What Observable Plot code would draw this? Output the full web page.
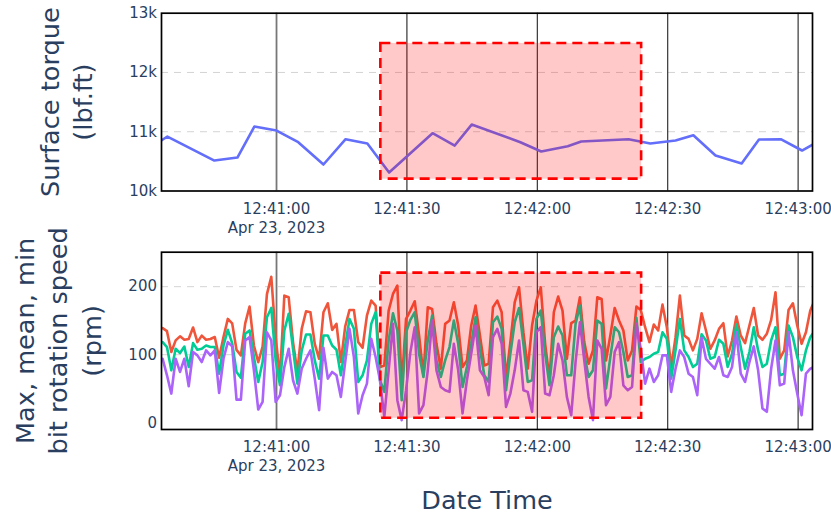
<!DOCTYPE html>
<html>
<head>
<meta charset="utf-8">
<script src="https://cdn.jsdelivr.net/npm/d3@7"></script>
<script src="https://cdn.jsdelivr.net/npm/@observablehq/plot@0.6"></script>
<style>
  html, body { margin: 0; padding: 0; background: #fff; }
  #chart { width: 831px; height: 514px; }
  #chart svg { display: block; }
</style>
</head>
<body>
<div id="chart"></div>
<script>
// ---------- data ----------
const xDomain = ["2023-04-23T12:40:33.54Z", "2023-04-23T12:43:03.31Z"];
const xTicks = ["2023-04-23T12:41:00Z", "2023-04-23T12:41:30Z", "2023-04-23T12:42:00Z", "2023-04-23T12:42:30Z", "2023-04-23T12:43:00Z"];
const xTickLabels = ["12:41:00\nApr 23, 2023", "12:41:30", "12:42:00", "12:42:30", "12:43:00"];

// surface torque (lbf.ft), irregular samples
const torqueTimes = [
  "12:40:33.5", "12:40:34.9", "12:40:45.7", "12:40:51.0", "12:40:54.9", "12:41:00.0",
  "12:41:05.0", "12:41:10.8", "12:41:15.9", "12:41:20.9", "12:41:25.9", "12:41:35.9",
  "12:41:41.0", "12:41:44.9", "12:41:56.1", "12:42:00.9", "12:42:07.0", "12:42:10.1",
  "12:42:21.0", "12:42:26.0", "12:42:31.8", "12:42:35.9", "12:42:41.0", "12:42:47.0",
  "12:42:51.0", "12:42:56.0", "12:43:00.9", "12:43:03.8"
];
const torqueValues = [
  10852, 10919, 10514, 10565, 11088, 11020,
  10823, 10447, 10874, 10801, 10312, 10975,
  10767, 11121, 10823, 10666, 10755, 10835,
  10874, 10801, 10852, 10941, 10599, 10464,
  10868, 10874, 10683, 10801
];
const torqueTicks = [10000, 11000, 12000, 13000];
const torqueTickLabels = ["10k", "11k", "12k", "13k"];

// bit rotation speed (rpm), one sample per second
const rpmStart = "2023-04-23T12:40:33.8Z";
const rpmStepMs = 1000;
const maxRpm = [
  139, 134.6, 104, 121, 127, 122, 123, 140, 118.5, 128, 122, 123, 126, 95.6, 126, 152.6, 146, 107, 99, 146, 170.7, 113.5, 89, 112, 189,
  214.6, 125.8, 67.2, 186.8, 184.4, 118.5, 74.6, 138, 163.9, 162.4, 116, 94, 162.4, 175.6, 136.5, 145.3, 89.2, 141.4, 165.8, 165.8, 118.5, 110.2, 157.5, 179.5, 172.2,
  81.8, 84.2, 164.9, 189.3, 201.5, 55, 152.6, 164.9, 178.6, 128.2, 69.7, 169.7, 167.3, 116, 79.4, 145.3, 150.2, 177, 142.9, 81.8, 91.6, 142.9, 172.2, 128.2, 84.2,
  86.7, 169.7, 179.5, 162.4, 64.8, 118.5, 177, 199, 133, 79.4, 142.8, 179.5, 199, 116, 64.8, 162.4, 185.4, 164.9, 94, 146.3, 150.2, 184.4, 118.5, 86.7, 106.2,
  184.4, 181.9, 91.6, 128.2, 168.7, 150.2, 135.6, 91.6, 106.3, 170.7, 165.8, 140.4, 118.5, 144.3, 135.6, 173.6, 140.4, 81.8, 125.8, 186.8, 128.2, 123.3, 106.3, 123.3, 160.9,
  135.6, 108.7, 120.9, 138, 146.3, 97.5, 120.9, 156, 128.2, 117, 142.9, 168.7, 128.2, 121.9, 130.7, 151.2, 191.7, 94, 106.3, 165.8, 175.6, 142.9, 116, 133, 164.9, 180
];
const meanRpm = [
  118.5, 111.2, 77, 108.7, 102.4, 112, 82, 117, 107.2, 108.7, 113.5, 111.2, 111.2, 72, 113.5, 136.5, 117, 74.6, 66.3, 130.7, 135.6, 96.5, 59.9, 89.2, 155,
  168.7, 91.6, 55, 135.6, 160, 108.7, 57.5, 106.3, 129.7, 129.7, 91.6, 64.8, 128.2, 128.2, 113.5, 107.3, 69.7, 113.5, 152.6, 138, 59.9, 69.7, 91.6, 145.3, 162.4,
  62.4, 45.3, 121, 160.9, 135.6, 33.1, 133, 151.1, 162.4, 101.4, 67.2, 121, 157.5, 91.6, 67.2, 91.6, 111.2, 150.2, 116, 52.6, 81.8, 116, 155, 108.7, 69.7,
  59.9, 147.7, 156, 138, 47.7, 101.4, 147.7, 168.7, 116, 59.9, 62.4, 152.6, 164.9, 101.4, 55, 125.8, 141.4, 128.2, 69.7, 69.7, 145.3, 172.2, 101.4, 67.2, 77,
  150.2, 145.3, 50.2, 96.5, 140.4, 133, 103.9, 67.2, 69.7, 154.1, 89.2, 94, 96.5, 101.4, 103.9, 133, 123.3, 64.8, 106.3, 152.6, 106.3, 96.5, 81.8, 86.6, 130,
  121, 94, 96.5, 121.9, 116, 82, 101.4, 144.4, 111.2, 79.4, 103.9, 140.4, 106.3, 82, 86.7, 121, 140.4, 69.7, 72.1, 142.9, 125.8, 96.5, 77, 106.3, 125.8, 135
];
const minRpm = [
  94, 69.7, 42.8, 94, 74.6, 94, 53.6, 103.9, 99, 89.2, 106.3, 99, 106.3, 43.8, 94, 118.5, 112.2, 34, 34, 120.9, 125.8, 77, 19.4, 30.6, 133,
  121, 30.6, 40.4, 81.7, 108.7, 62.4, 42.8, 79.4, 94, 106.3, 64.8, 18.4, 110.2, 64.8, 74.6, 69.7, 37.9, 89.2, 138, 96.5, 13.6, 40.4, 57.5, 123.3, 96.5,
  62.4, 8.7, 77, 145.3, 33.1, 3.8, 47.7, 103.8, 140.4, 13.6, 25.8, 77, 150.2, 77, 52.6, 47.7, 45.3, 116, 77, 13.6, 62.4, 101.4, 142.8, 77, 67.2,
  40.4, 125.8, 138, 116, 23.3, 42.8, 77, 120.9, 47.7, 45.3, 16, 133, 140.4, 42.8, 40.4, 69.7, 116, 91.6, 37.9, 11, 89.2, 147.7, 91.6, 37.9, 3.8,
  120.9, 108.7, 25.8, 37.9, 103.9, 118.5, 55, 47.7, 52.6, 145.3, 108.7, 57.5, 79.4, 59.9, 69.7, 99, 99, 45.3, 79.4, 106.3, 96.5, 72.1, 67.2, 40.4, 125,
  94, 86.7, 79.4, 96.5, 69.7, 67.2, 81.8, 133, 72.1, 59.9, 89.2, 112.2, 77, 20.9, 16, 79.4, 120.9, 55, 57.5, 133, 77, 42.8, 11, 72.1, 79.4, 82
];
const rpmTicks = [0, 100, 200];

// highlighted window
const windowTimes = ["2023-04-23T12:41:24Z", "2023-04-23T12:42:24Z"];
const torqueWindow = [10200, 12490];
const rpmWindow = [6.5, 220];

const torqueTitle = "Surface torque\n(lbf.ft)";
const rpmTitle = "Max, mean, min\nbit rotation speed\n(rpm)";
const xTitle = "Date Time";

// ---------- tables ----------
const xDom = xDomain.map(d => new Date(d));
const xTickDates = xTicks.map(d => new Date(d));
const xLabelMap = new Map(xTickDates.map((d, i) => [+d, xTickLabels[i]]));
const torque = torqueTimes.map((t, i) => ({t: new Date("2023-04-23T" + t + "Z"), v: torqueValues[i]}));
const t0 = +new Date(rpmStart);
const rpm = maxRpm.map((v, i) => ({t: new Date(t0 + i * rpmStepMs), max: v, mean: meanRpm[i], min: minRpm[i]}));
const tw = windowTimes.map(d => new Date(d));

const textColor = "#2a3f5f";
const fontFamily = "'DejaVu Sans', sans-serif";
const W = 831;
const LW = 2.6;

function vlines() {
  return xTickDates.map((d, i) => Plot.ruleX([d], {
    stroke: i === 0 ? "#777" : "#222", strokeWidth: i === 0 ? 1.8 : 1.1
  }));
}

// ---------- top panel ----------
const topPlot = Plot.plot({
  width: W, height: 235,
  marginLeft: 161, marginRight: 19, marginTop: 12.7, marginBottom: 44.5,
  style: {fontFamily, fontSize: "15px", color: textColor, background: "white", overflow: "visible"},
  x: {type: "utc", domain: xDom},
  y: {domain: [10000, 13000]},
  marks: [
    Plot.ruleY(torqueTicks.slice(1, -1), {stroke: "#d4d4d4", strokeWidth: 1, strokeDasharray: "7,6"}),
    ...vlines(),
    Plot.line(torque, {x: "t", y: "v", stroke: "#636EFA", strokeWidth: LW, clip: true}),
    Plot.rect([0], {x1: () => tw[0], x2: () => tw[1], y1: () => torqueWindow[0], y2: () => torqueWindow[1],
      fill: "red", fillOpacity: 0.21, stroke: "red", strokeWidth: 2.6, strokeDasharray: "10,6"}),
    Plot.frame({stroke: "black", strokeWidth: 1.7}),
    Plot.axisY({ticks: torqueTicks, tickFormat: d => torqueTickLabels[torqueTicks.indexOf(d)], tickSize: 0, tickPadding: 4.5, label: null, fontSize: 15}),
    Plot.axisX({ticks: xTickDates, tickFormat: d => xLabelMap.get(+d), tickSize: 0, tickPadding: 9.5, label: null, fontSize: 15, lineHeight: 1.27}),
    Plot.text([torqueTitle], {text: d => d, frameAnchor: "left", dx: -69.6, rotate: -90, lineAnchor: "bottom",
      textAnchor: "middle", fontSize: 25.6, lineHeight: 1.3, fill: textColor})
  ]
});

// ---------- bottom panel ----------
const bottomPlot = Plot.plot({
  width: W, height: 279,
  marginLeft: 161, marginRight: 19, marginTop: 16.7, marginBottom: 85,
  style: {fontFamily, fontSize: "15px", color: textColor, background: "white", overflow: "visible"},
  x: {type: "utc", domain: xDom},
  y: {domain: [-10, 250.7]},
  marks: [
    Plot.ruleY(rpmTicks.slice(1), {stroke: "#d4d4d4", strokeWidth: 1, strokeDasharray: "7,6"}),
    ...vlines(),
    Plot.line(rpm, {x: "t", y: "max", stroke: "#EF553B", strokeWidth: LW, clip: true}),
    Plot.line(rpm, {x: "t", y: "mean", stroke: "#00CC96", strokeWidth: LW, clip: true}),
    Plot.line(rpm, {x: "t", y: "min", stroke: "#AB63FA", strokeWidth: LW, clip: true}),
    Plot.rect([0], {x1: () => tw[0], x2: () => tw[1], y1: () => rpmWindow[0], y2: () => rpmWindow[1],
      fill: "red", fillOpacity: 0.21, stroke: "red", strokeWidth: 2.6, strokeDasharray: "10,6"}),
    Plot.frame({stroke: "black", strokeWidth: 1.7}),
    Plot.axisY({ticks: rpmTicks, tickFormat: d => String(d), tickSize: 0, tickPadding: 4.5, label: null, fontSize: 15}),
    Plot.axisX({ticks: xTickDates, tickFormat: d => xLabelMap.get(+d), tickSize: 0, tickPadding: 8.5, label: null, fontSize: 15, lineHeight: 1.3}),
    Plot.text([rpmTitle], {text: d => d, frameAnchor: "left", dx: -61, rotate: -90, lineAnchor: "bottom",
      textAnchor: "middle", fontSize: 25.6, lineHeight: 1.3, fill: textColor}),
    Plot.text([xTitle], {text: d => d, frameAnchor: "bottom", dy: 79, lineAnchor: "bottom",
      textAnchor: "middle", fontSize: 25.5, fill: textColor})
  ]
});

const chart = document.getElementById("chart");
chart.appendChild(topPlot);
chart.appendChild(bottomPlot);
</script>
</body>
</html>
